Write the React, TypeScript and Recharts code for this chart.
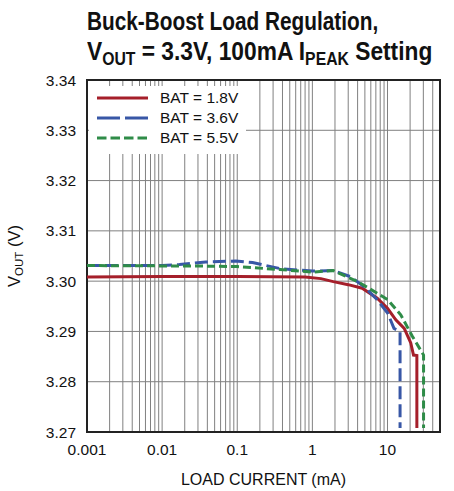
import React from 'react';
import { LineChart, Line, XAxis, YAxis, CartesianGrid, Legend, ReferenceArea } from 'recharts';

// BAT = 1.8V
const bat18Current = [0.001, 0.01, 0.1, 0.8, 1.3, 1.9, 3, 4.6, 7.3, 10, 12.9, 16.7, 20.4, 22.2, 24.6, 24.6];
const bat18Vout = [3.3008, 3.3009, 3.3009, 3.3008, 3.3005, 3.2999, 3.2993, 3.2986, 3.2966, 3.2946, 3.2923, 3.2906, 3.2877, 3.2853, 3.2852, 3.2708];

// BAT = 3.6V
const bat36Current = [0.001, 0.01, 0.017, 0.038, 0.096, 0.16, 0.37, 1, 1.9, 3.2, 4.9, 7.3, 10.1, 12.2, 14.7, 14.7];
const bat36Vout = [3.3031, 3.3031, 3.3033, 3.3038, 3.304, 3.3037, 3.3025, 3.302, 3.3021, 3.3009, 3.2989, 3.2963, 3.2936, 3.2906, 3.29, 3.2708];

// BAT = 5.5V
const bat55Current = [0.001, 0.03, 0.1, 0.37, 1, 1.9, 4.0, 7.3, 10.1, 15, 21.5, 30.2, 30.2];
const bat55Vout = [3.3031, 3.303, 3.3029, 3.3023, 3.3018, 3.3021, 3.2999, 3.2976, 3.2963, 3.2933, 3.289, 3.2853, 3.2708];

const decades = [0.001, 0.01, 0.1, 1, 10];
const decadeLabels = ['0.001', '0.01', '0.1', '1', '10'];
const multipliers = [1, 2, 3, 4, 5, 6, 7, 8, 9];
const xMax = 50;
const yTicks = [3.27, 3.28, 3.29, 3.3, 3.31, 3.32, 3.33, 3.34];

const xTicks: number[] = [];
decades.forEach((d) => multipliers.forEach((m) => {
  const v = parseFloat((d * m).toPrecision(3));
  if (v <= xMax) xTicks.push(v);
}));

const toRows = (xs: number[], ys: number[]) => xs.map((x, i) => ({ i: x, v: ys[i] }));

const series = [
  { name: 'BAT = 1.8V', data: toRows(bat18Current, bat18Vout), color: '#a51f2a', dash: undefined, legendDash: undefined },
  { name: 'BAT = 3.6V', data: toRows(bat36Current, bat36Vout), color: '#3857a6', dash: '13 5', legendDash: '23 5' },
  { name: 'BAT = 5.5V', data: toRows(bat55Current, bat55Vout), color: '#2f8c48', dash: '8 4', legendDash: '9.5 4' },
];

const FONT = "'Liberation Sans', Arial, sans-serif";

const formatX = (v: number) => {
  const idx = decades.findIndex((d) => Math.abs(d - v) < d * 1e-6);
  return idx >= 0 ? decadeLabels[idx] : '';
};

const XLabel = (props: any) => {
  const vb = props.viewBox || {};
  return (
    <text x={vb.x + vb.width / 2} y={vb.y + 53} textAnchor="middle" fontFamily={FONT} fontSize={16} fill="#111">
      LOAD CURRENT (mA)
    </text>
  );
};

const YLabel = (props: any) => {
  const vb = props.viewBox || {};
  const cx = 20;
  const cy = vb.y + vb.height / 2;
  return (
    <text x={cx} y={cy} transform={`rotate(-90 ${cx} ${cy})`} textAnchor="middle" fontFamily={FONT} fontSize={16.5} fill="#111">
      <tspan>V</tspan>
      <tspan fontSize={11.5} dy={3}>OUT</tspan>
      <tspan dy={-3}> (V)</tspan>
    </text>
  );
};

const LegendBox = () => (
  <div style={{ background: '#fff', width: '100%', height: '100%', paddingTop: 2 }}>
    {series.map((s) => (
      <div key={s.name} style={{ display: 'flex', alignItems: 'center', height: 20, whiteSpace: 'nowrap' }}>
        <svg width={60} height={10} style={{ display: 'block', flex: 'none' }}>
          <line x1={8} y1={5} x2={59} y2={5} stroke={s.color} strokeWidth={3} strokeDasharray={s.legendDash} />
        </svg>
        <span style={{ fontFamily: FONT, fontSize: 15.5, color: '#111', marginLeft: 11 }}>{s.name}</span>
      </div>
    ))}
  </div>
);

const subStyle: React.CSSProperties = { fontSize: 18, position: 'relative', top: 5 };
const titleLine: React.CSSProperties = { transformOrigin: '0 0', height: 30 };

export default function App() {
  return (
    <div style={{ position: 'absolute', left: 0, top: 0, width: 454, height: 491, background: '#fff' }}>
      <div
        style={{
          position: 'absolute', left: 87, top: 6, fontFamily: FONT, fontWeight: 'bold', fontSize: 26,
          lineHeight: '30px', color: '#111', whiteSpace: 'nowrap',
        }}
      >
        <div style={{ ...titleLine, transform: 'scaleX(0.8)' }}>Buck-Boost Load Regulation,</div>
        <div style={{ ...titleLine, transform: 'scaleX(0.875)' }}>
          V<span style={subStyle}>OUT</span> = 3.3V, 100mA I<span style={subStyle}>PEAK</span> Setting
        </div>
      </div>
      <LineChart width={454} height={491} margin={{ top: 80, right: 14, bottom: 9, left: 27 }}>
        <CartesianGrid stroke="#808080" strokeWidth={1} />
        <XAxis
          dataKey="i"
          type="number"
          scale="log"
          domain={[0.001, xMax]}
          ticks={xTicks}
          interval={0}
          allowDataOverflow
          tickFormatter={formatX}
          tickLine={false}
          axisLine={false}
          tickSize={0}
          tickMargin={12}
          height={50}
          tick={{ fontFamily: FONT, fontSize: 15.5, fill: '#111' }}
          label={<XLabel />}
        />
        <YAxis
          type="number"
          domain={[3.27, 3.34]}
          ticks={yTicks}
          interval={0}
          allowDataOverflow
          tickFormatter={(v: number) => v.toFixed(2)}
          tickLine={false}
          axisLine={false}
          tickSize={0}
          tickMargin={11}
          width={60}
          tick={{ fontFamily: FONT, fontSize: 15.5, fill: '#111' }}
          label={<YLabel />}
        />
        {series.map((s) => (
          <Line
            key={s.name}
            data={s.data}
            dataKey="v"
            name={s.name}
            type="linear"
            stroke={s.color}
            strokeWidth={3}
            strokeDasharray={s.dash}
            dot={false}
            activeDot={false}
            isAnimationActive={false}
          />
        ))}
        <ReferenceArea x1={0.001} x2={xMax} y1={3.27} y2={3.34} fill="none" stroke="#222" strokeWidth={2} ifOverflow="visible" />
        <Legend
          layout="vertical"
          align="center"
          verticalAlign="middle"
          content={<LegendBox />}
          wrapperStyle={{ left: 89, top: 86, width: 157, height: 66 }}
        />
      </LineChart>
    </div>
  );
}
